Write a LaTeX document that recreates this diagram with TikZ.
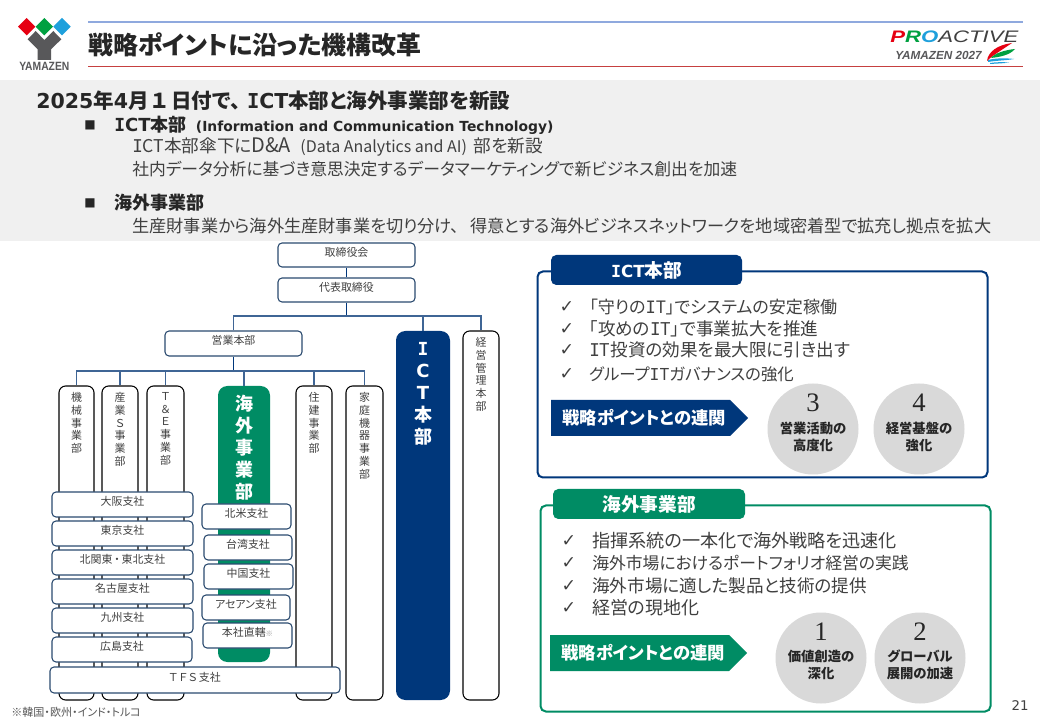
\documentclass[tikz,border=0pt]{standalone}
\usepackage{graphicx}
\usepackage{fontspec}
\setmainfont[RawFeature=+palt]{Noto Sans CJK JP}
\newfontfamily\latfont{DejaVu Sans}
\newfontfamily\monofont{DejaVu Sans Mono}
\newfontfamily\arialfont{Liberation Sans}
\newfontfamily\numfont{Liberation Serif}
\newcommand{\capI}{{\monofont I}}
\newcommand{\px}{0.75pt}
\newcommand{\fsize}[1]{\fontsize{#1}{15}\selectfont}
\definecolor{navyblue}{HTML}{00377B}
\definecolor{seagreen}{HTML}{008C64}
\definecolor{linkblue}{HTML}{3F6595}
\definecolor{boxedge}{HTML}{2B4A6F}
\definecolor{bandgray}{HTML}{F0F0F0}
\definecolor{circlegray}{HTML}{D9D9D9}
\definecolor{txtgray}{HTML}{404040}
\definecolor{logogray}{HTML}{58585A}
\definecolor{logored}{HTML}{E60012}
\definecolor{logogreen}{HTML}{00A040}
\definecolor{logoblue}{HTML}{1EA0DC}
\tikzset{
  orgbox/.style={draw=boxedge, fill=white, line width=0.8pt, rounded corners=3pt, inner sep=0pt, text height=6pt, text depth=4pt, text=txtgray, font=\fontsize{8.2}{9.6}\selectfont},
  vbox/.style={draw=black, fill=white, line width=0.8pt, rounded corners=5pt, inner sep=0pt},
  vfill/.style={rounded corners=7pt, inner sep=0pt},
  vtext/.style={anchor=north, inner sep=0pt, align=center, text=txtgray, font=\fontsize{8.2}{9.6}\selectfont},
  vbig/.style={anchor=north, inner sep=0pt, align=center, text=white, font=\fontsize{13.5}{16.6}\selectfont\bfseries},
  orgline/.style={draw=linkblue, line width=0.9pt},
  bodytext/.style={anchor=west, inner sep=0pt, text=txtgray, font=\fsize{12.6}},
  boldtext/.style={anchor=west, inner sep=0pt, text=black!85, font=\fsize{13.5}\bfseries},
  panelbox/.style={fill=white, line width=1.5pt, rounded corners=4pt, inner sep=0pt},
  tabbox/.style={rounded corners=4pt, inner sep=0pt, text=white, font=\fsize{14}\bfseries},
  checktext/.style={anchor=center, inner sep=0pt, text=txtgray, font=\latfont\fsize{13}},
  arrowtext/.style={anchor=west, inner sep=0pt, text=white, font=\fsize{13}\bfseries},
  pointcircle/.style={circle, fill=circlegray, inner sep=0pt, minimum size=91*\px},
  pointnum/.style={inner sep=0pt, text=black!85, font=\numfont\fontsize{20}{22}\selectfont},
  pointtext/.style={inner sep=0pt, align=center, text=black!85, font=\fontsize{10}{12.6}\selectfont\bfseries},
}
\begin{document}
\begin{tikzpicture}[x=0.75pt,y=-0.75pt] % one unit is one pixel of the slide
    \useasboundingbox (0,0) rectangle (1040,720);
    \fill[white] (0,0) rectangle (1040,720);

    % Logo
    \fill[logored] (26.7,18) -- (35.4,26.7) -- (26.7,35.4) -- (18,26.7) -- cycle;
    \fill[logogreen] (44.3,18) -- (53,26.7) -- (44.3,35.4) -- (35.6,26.7) -- cycle;
    \fill[logoblue] (62,18) -- (70.7,26.7) -- (62,35.4) -- (53.3,26.7) -- cycle;
    \fill[logogray] (27.7,39.3) -- (35.7,31) -- (44.3,40) -- (53.3,31) -- (61.3,39.3) -- (51,49.3) -- (51,60) -- (37.7,60) -- (37.7,49.3) -- cycle;
    \node[inner sep=0pt, text=logogray, font=\arialfont\fontsize{9}{10}\selectfont\bfseries] (logoname) at (44.3,66) {\scalebox{0.86}[1]{YAMAZEN}};

    % Title
    \draw[cyan!45!blue!45, line width=0.8pt] (88,22) -- (1023,22);
    \draw[red!70!black!75, line width=0.6pt] (88,66.5) -- (1023,66.5);
    \node[anchor=west, inner sep=0pt, text=black!85, font=\fontsize{18.7}{21}\selectfont\bfseries] (title) at (88,45) {戦略ポイントに沿った機構改革};

    % Proactive logo
    \node[anchor=west, inner sep=0pt, font=\arialfont\fontsize{12.5}{14}\selectfont\bfseries\itshape] (prologo) at (890,37) {\scalebox{1.33}[1]{\textcolor{logored}{P}\textcolor{logogreen}{R}\textcolor{logoblue}{O}\textcolor{txtgray}{\mdseries ACTIVE}}};
    \node[anchor=west, inner sep=0pt, text=logogray, font=\arialfont\fontsize{8.8}{10}\selectfont\bfseries\itshape] (proyear) at (895,55.5) {YAMAZEN 2027};
    \fill[logored] (1012,43) .. controls (997,45) and (988,52) .. (987,61) .. controls (993,55) and (1002,50) .. (1012,43) -- cycle;
    \fill[logogreen] (1015,49) .. controls (1005,50) and (995,53) .. (991,58) .. controls (1000,57) and (1010,55) .. (1015,49) -- cycle;
    \fill[logoblue] (988,60) .. controls (996,58) and (1006,58) .. (1014,59) .. controls (1006,60.5) and (996,60.5) .. (988,62) -- cycle;
    \fill[logoblue] (990,63) .. controls (996,62) and (1003,62) .. (1009,62.5) .. controls (1003,63.5) and (996,63.5) .. (990,64) -- cycle;

    % Gray band
    \fill[bandgray] (0,80) rectangle (1040,241);
    \node[anchor=west, inner sep=0pt, text=black!85, font=\fontsize{15.4}{17}\selectfont\bfseries] (headline) at (36,101) {{\latfont 2025}年{\latfont 4}月\,１\,日付で、\hspace{5pt}{\latfont\capI CT}本部と海外事業部を新設};
    \node[inner sep=0pt, text=black!85, font=\latfont\fontsize{9}{10}\selectfont] (markone) at (90,125) {■};
    \node[boldtext] (ictline) at (114,125) {{\latfont\capI CT}本部{\latfont\fontsize{10.4}{12}\selectfont\hspace{7pt}(Information and Communication Technology)}};
    \node[bodytext, font=\fsize{13.2}] (ictone) at (132,147) {\capI CT本部傘下に{\fontsize{15}{15}\selectfont D\&A}\hspace{7pt}{\fsize{12}(Data Analytics and AI)}\hspace{5pt}部を新設};
    \node[bodytext] (icttwo) at (132,169) {社内データ分析に基づき意思決定するデータマーケティングで新ビジネス創出を加速};
    \node[inner sep=0pt, text=black!85, font=\latfont\fontsize{9}{10}\selectfont] (marktwo) at (90,203) {■};
    \node[boldtext] (kaigailine) at (114,203) {海外事業部};
    \node[bodytext, font=\fsize{12.9}] (kaigaione) at (132,226) {生産財事業から海外生産財事業を切り分け、\hspace{8pt}得意とする海外ビジネスネットワークを地域密着型で拡充し拠点を拡大};

    % Head office boxes
    \node[orgbox, minimum width=137*\px, minimum height=24*\px] (torishimari) at (346.5,255) {取締役会};
    \node[orgbox, minimum width=137*\px, minimum height=24*\px] (daihyo) at (346.5,290) {代表取締役};
    \node[orgbox, minimum width=137*\px, minimum height=25*\px] (eigyo) at (233.5,343.5) {営業本部};
    \node[vfill, fill=navyblue, minimum width=54*\px, minimum height=369*\px] (ictbox) at (423,515.5) {};
    \node[vbox, minimum width=36*\px, minimum height=369*\px] (kanri) at (481,515.5) {};
    \node[vtext] (kanrilabel) at (481,337) {経\\営\\管\\理\\本\\部};
    \node[vbig] (ictlabel) at (423,342) {{\latfont\capI}\\{\latfont C}\\{\latfont T}\\本\\部};

    % Business divisions
    \node[vbox, minimum width=35*\px, minimum height=314*\px] (kikai) at (76.5,543) {};
    \node[vbox, minimum width=36*\px, minimum height=314*\px] (sangyo) at (120,543) {};
    \node[vbox, minimum width=37*\px, minimum height=314*\px] (tande) at (165.5,543) {};
    \node[vfill, fill=seagreen, minimum width=52*\px, minimum height=276*\px] (kaigai) at (244,524) {};
    \node[vbox, minimum width=36*\px, minimum height=314*\px] (juken) at (314,543) {};
    \node[vbox, minimum width=37*\px, minimum height=314*\px] (katei) at (364.5,543) {};
    \node[vtext] (kikailabel) at (76.5,392) {機\\械\\事\\業\\部};
    \node[vtext] (sangyolabel) at (120,392) {産\\業\\Ｓ\\事\\業\\部};
    \node[vtext] (tandelabel) at (165.5,392) {Ｔ\\＆\\Ｅ\\事\\業\\部};
    \node[vbig] (kaigailabel) at (244,394.5) {海\\外\\事\\業\\部};
    \node[vtext] (jukenlabel) at (314,392) {住\\建\\事\\業\\部};
    \node[vtext] (kateilabel) at (364.5,392) {家\\庭\\機\\器\\事\\業\\部};

    % Connectors
    \coordinate (topbus) at (346.5,316);
    \coordinate (salesbus) at (233.5,371);
    \draw[navyblue, line width=1.4pt] (torishimari) -- (daihyo);
    \draw[orgline, draw=navyblue] (daihyo) -- (topbus);
    \draw[orgline] (eigyo) |- (topbus);
    \draw[orgline] (ictbox) |- (topbus);
    \draw[orgline] (kanri) |- (topbus);
    \draw[orgline, draw=navyblue] (eigyo) -- (salesbus);
    \draw[orgline] (kikai) |- (salesbus);
    \draw[orgline] (sangyo) |- (salesbus);
    \draw[orgline] (tande) |- (salesbus);
    \draw[orgline] (kaigai) |- (salesbus);
    \draw[orgline] (juken) |- (salesbus);
    \draw[orgline] (katei) |- (salesbus);

    % Domestic branches
    \node[orgbox, minimum width=141*\px, minimum height=25*\px] (osaka) at (122.5,504.5) {大阪支社};
    \node[orgbox, minimum width=141*\px, minimum height=25*\px] (tokyo) at (122.5,533.5) {東京支社};
    \node[orgbox, minimum width=141*\px, minimum height=25*\px] (kitakanto) at (122.5,562.5) {北関東\,・\,東北支社};
    \node[orgbox, minimum width=141*\px, minimum height=25*\px] (nagoya) at (122.5,591.5) {名古屋支社};
    \node[orgbox, minimum width=141*\px, minimum height=25*\px] (kyushu) at (122.5,620.5) {九州支社};
    \node[orgbox, minimum width=140*\px, minimum height=25*\px] (hiroshima) at (122,649.5) {広島支社};
    \node[orgbox, minimum width=290*\px, minimum height=26*\px] (tfs) at (195,680) {Ｔ\,Ｆ\,Ｓ\,支社};

    % Overseas branches
    \node[orgbox, minimum width=89*\px, minimum height=25*\px] (hokubei) at (246.5,516.5) {北米支社};
    \node[orgbox, minimum width=88*\px, minimum height=25*\px] (taiwan) at (248,547.5) {台湾支社};
    \node[orgbox, minimum width=89*\px, minimum height=25*\px] (chugoku) at (248.5,576.5) {中国支社};
    \node[orgbox, minimum width=88*\px, minimum height=25*\px] (asean) at (246,607.5) {アセアン支社};
    \node[orgbox, minimum width=89*\px, minimum height=25*\px] (chokkatsu) at (247.5,635.5) {本社直轄{\fontsize{5.5}{6}\selectfont\textcolor{black!40}{※}}};
    \node[anchor=west, inner sep=0pt, text=black!65, font=\fontsize{8.3}{10}\selectfont] (footnote) at (11,712) {※韓国・欧州・インド・トルコ};

    % ICT panel
    \node[panelbox, draw=navyblue, minimum width=450*\px, minimum height=206*\px] (ictpanel) at (762.5,374.5) {};
    \node[tabbox, fill=navyblue, minimum width=191*\px, minimum height=30*\px] (icttab) at (646.5,270) {{\latfont\fsize{12.5}\capI CT}本部};
    \node[checktext] (ictcheckone) at (567,307) {✓};
    \node[checktext] (ictchecktwo) at (567,329) {✓};
    \node[checktext] (ictcheckthree) at (567,350) {✓};
    \node[checktext] (ictcheckfour) at (567,374) {✓};
    \node[bodytext, font=\fsize{12.8}] (ictitemone) at (589,307) {「守りの\capI T」でシステムの安定稼働};
    \node[bodytext, font=\fsize{13.2}] (ictitemtwo) at (589,329) {「攻めの\capI T」で事業拡大を推進};
    \node[bodytext, font=\fsize{13.2}] (ictitemthree) at (589,350) {\capI T投資の効果を最大限に引き出す};
    \node[bodytext, font=\fsize{12.3}] (ictitemfour) at (589,374) {グループ\capI Tガバナンスの強化};
    \fill[navyblue] (551,400) -- (730,400) -- (748,418) -- (730,436) -- (551,436) -- cycle;
    \node[arrowtext] (ictarrow) at (562,418) {戦略ポイントとの連関};
    \node[pointcircle] (circlethree) at (813,429) {};
    \node[pointcircle] (circlefour) at (919,429) {};
    \node[pointnum] (numthree) at (813,403) {3};
    \node[pointnum] (numfour) at (919,403) {4};
    \node[pointtext] (textthree) at (813,437) {営業活動の\\高度化};
    \node[pointtext] (textfour) at (919,437) {経営基盤の\\強化};

    % Overseas panel
    \node[panelbox, draw=seagreen, minimum width=450*\px, minimum height=206*\px] (kaigaipanel) at (765.5,608.5) {};
    \node[tabbox, fill=seagreen, minimum width=192*\px, minimum height=30*\px] (kaigaitab) at (649,504) {海外事業部};
    \node[checktext] (kaigaicheckone) at (569,541) {✓};
    \node[checktext] (kaigaichecktwo) at (569,563) {✓};
    \node[checktext] (kaigaicheckthree) at (569,586) {✓};
    \node[checktext] (kaigaicheckfour) at (569,608) {✓};
    \node[bodytext, font=\fsize{13.6}] (kaigaiitemone) at (592,541) {指揮系統の一本化で海外戦略を迅速化};
    \node[bodytext] (kaigaiitemtwo) at (592,563) {海外市場におけるポートフォリオ経営の実践};
    \node[bodytext, font=\fsize{13.2}] (kaigaiitemthree) at (592,586) {海外市場に適した製品と技術の提供};
    \node[bodytext, font=\fsize{13.5}] (kaigaiitemfour) at (592,608) {経営の現地化};
    \fill[seagreen] (550,635) -- (729,635) -- (747,653) -- (729,671) -- (550,671) -- cycle;
    \node[arrowtext] (kaigaiarrow) at (561,653) {戦略ポイントとの連関};
    \node[pointcircle] (circleone) at (821,658) {};
    \node[pointcircle] (circletwo) at (920,658) {};
    \node[pointnum] (numone) at (821,632) {1};
    \node[pointnum] (numtwo) at (920,632) {2};
    \node[pointtext] (textone) at (821,665) {価値創造の\\深化};
    \node[pointtext] (texttwo) at (920,665) {グローバル\\展開の加速};

    % Page number
    \node[inner sep=0pt, text=txtgray, font=\latfont\fontsize{10}{12}\selectfont] (pagenum) at (1020,706) {21};
\end{tikzpicture}
\end{document}
